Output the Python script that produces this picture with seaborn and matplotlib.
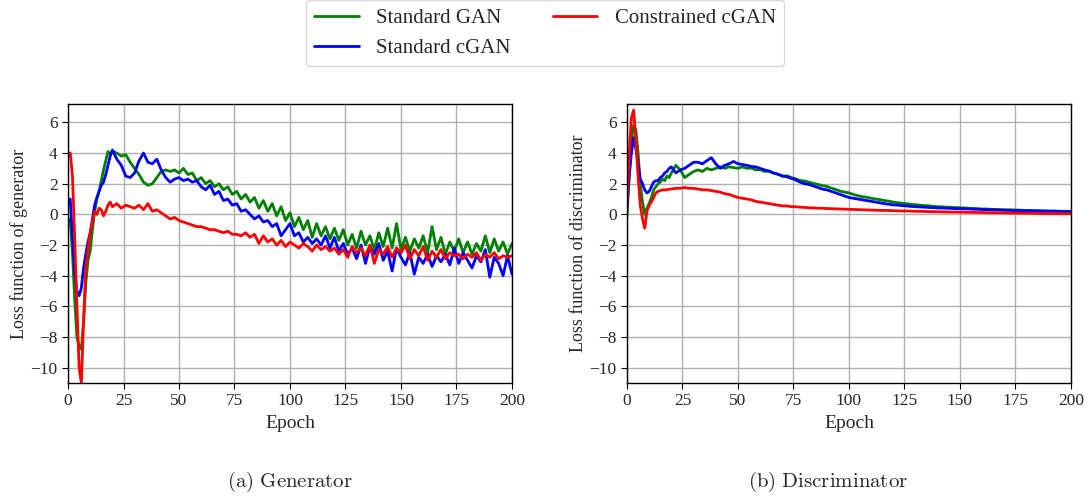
import numpy as np
import pandas as pd
import matplotlib
matplotlib.use("Agg")
import matplotlib.pyplot as plt
import seaborn as sns

# epochs: every epoch for the first 20, then every second epoch
epochs = list(range(0, 20)) + list(range(20, 201, 2))

# ---- generator losses ----
gen_gan = [
    -0.7, -0.3, -2.5, -5.5, -8.0, -8.6, -8.8, -7.0, -4.5, -3.0,
    -2.4, -1.0, 0.2, 1.0, 1.5, 2.2, 2.9, 3.5, 4.1, 3.9,
    4.1, 4.0, 3.8, 3.9, 3.4, 3.0, 2.6, 2.1, 1.9, 2.0,
    2.4, 2.8, 2.9, 2.8, 2.9, 2.7, 3.0, 2.6, 2.7, 2.2,
    2.4, 2.0, 2.2, 1.8, 2.0, 1.6, 1.8, 1.3, 1.5, 1.0,
    1.3, 0.8, 1.1, 0.4, 0.9, 0.2, 0.7, -0.1, 0.5, -0.4,
    0.1, -0.8, -0.2, -1.0, -0.4, -1.5, -0.6, -1.4, -0.8, -1.6,
    -0.9, -1.7, -1.0, -2.0, -1.3, -2.2, -1.1, -2.0, -1.4, -2.3,
    -1.2, -2.1, -0.9, -2.2, -0.6, -2.3, -1.5, -2.4, -1.6, -2.2,
    -1.4, -2.5, -0.8, -2.3, -1.5, -2.6, -1.8, -2.4, -1.6, -2.5,
    -1.8, -2.6, -1.9, -2.4, -1.4, -2.5, -1.6, -2.4, -1.8, -2.6,
    -1.9,
]
gen_cgan = [
    0.9, 1.0, -1.5, -3.8, -5.0, -5.3, -4.8, -3.5, -2.6, -1.8,
    -1.2, -0.3, 0.6, 1.1, 1.5, 1.9, 2.1, 2.6, 3.2, 3.8,
    4.2, 3.6, 3.2, 2.5, 2.4, 2.7, 3.5, 4.0, 3.4, 3.3,
    3.6, 2.9, 2.4, 2.1, 2.3, 2.4, 2.2, 2.3, 2.1, 2.2,
    1.8, 1.6, 1.9, 1.3, 1.5, 0.9, 1.0, 0.6, 0.7, 0.2,
    0.3, 0.0, -0.3, -0.1, -0.5, -0.4, -0.8, -0.6, -1.4, -1.0,
    -0.6, -1.4, -1.2, -1.8, -1.5, -1.9, -1.6, -2.0, -1.4, -2.2,
    -1.5, -2.4, -1.9, -2.6, -2.2, -2.9, -2.0, -3.2, -2.1, -2.6,
    -1.9, -3.0, -2.4, -3.7, -2.2, -2.8, -3.3, -2.5, -3.9, -2.8,
    -3.2, -2.6, -3.4, -2.7, -3.1, -2.6, -3.3, -2.2, -3.2, -2.5,
    -3.0, -3.5, -2.7, -3.1, -2.3, -4.1, -2.8, -3.2, -4.0, -2.7,
    -3.9,
]
gen_constrained = [
    4.0, 4.0, 2.5, -1.5, -6.0, -10.0, -11.0, -7.0, -3.5, -2.3,
    -1.2, -0.5, 0.2, 0.0, 0.4, 0.3, -0.1, 0.2, 0.6, 0.8,
    0.5, 0.7, 0.4, 0.6, 0.5, 0.4, 0.6, 0.3, 0.7, 0.2,
    0.3, 0.1, -0.1, -0.3, -0.2, -0.4, -0.5, -0.6, -0.7, -0.8,
    -0.8, -0.9, -1.0, -1.0, -1.1, -1.2, -1.1, -1.3, -1.3, -1.4,
    -1.2, -1.5, -1.3, -1.9, -1.4, -1.8, -1.6, -2.0, -1.7, -2.1,
    -1.8, -2.0, -2.2, -1.9, -2.1, -2.4, -2.0, -2.3, -2.1, -2.4,
    -2.2, -2.6, -2.3, -2.8, -2.1, -2.5, -2.2, -2.7, -2.0, -3.2,
    -2.3, -2.6, -2.1, -2.8, -2.2, -2.5, -2.0, -2.9, -2.3, -2.7,
    -2.1, -3.0, -2.4, -2.8, -2.3, -2.9, -2.5, -2.7, -2.6, -2.9,
    -2.6, -2.8, -2.5, -3.0, -2.6, -2.8, -2.5, -2.9, -2.7, -2.8,
    -2.7,
]

# ---- discriminator losses ----
dis_gan = [
    -0.2, 2.5, 4.8, 5.8, 5.5, 4.0, 2.0, 0.8, 0.0, 0.4,
    0.7, 1.1, 1.6, 1.8, 2.0, 2.1, 2.3, 2.2, 2.5, 2.4,
    2.7, 3.2, 2.9, 2.4, 2.6, 2.8, 2.9, 2.8, 3.0, 2.9,
    3.0, 3.1, 3.0, 3.1, 3.05, 3.0, 3.1, 3.0, 3.02, 2.9,
    2.92, 2.8, 2.82, 2.7, 2.62, 2.5, 2.52, 2.4, 2.32, 2.2,
    2.18, 2.1, 2.02, 1.95, 1.88, 1.82, 1.72, 1.62, 1.52, 1.45,
    1.4, 1.3, 1.22, 1.15, 1.12, 1.05, 1.0, 0.96, 0.9, 0.86,
    0.8, 0.76, 0.72, 0.7, 0.65, 0.63, 0.6, 0.57, 0.56, 0.52,
    0.5, 0.49, 0.47, 0.46, 0.44, 0.43, 0.42, 0.4, 0.39, 0.37,
    0.35, 0.35, 0.33, 0.32, 0.31, 0.3, 0.3, 0.29, 0.28, 0.27,
    0.26, 0.25, 0.25, 0.24, 0.23, 0.22, 0.22, 0.21, 0.2, 0.2,
    0.2,
]
dis_cgan = [
    0.5, 2.5, 4.0, 5.0, 4.3, 3.3, 2.3, 2.0, 1.6, 1.4,
    1.5, 1.8, 2.1, 2.2, 2.2, 2.4, 2.5, 2.7, 2.8, 3.0,
    3.1, 2.7, 2.9, 3.0, 3.2, 3.4, 3.4, 3.3, 3.5, 3.7,
    3.3, 3.0, 3.2, 3.3, 3.45, 3.3, 3.25, 3.2, 3.12, 3.1,
    3.0, 2.9, 2.82, 2.7, 2.62, 2.5, 2.45, 2.35, 2.25, 2.1,
    2.0, 1.95, 1.85, 1.75, 1.65, 1.6, 1.5, 1.4, 1.3, 1.2,
    1.1, 1.05, 1.0, 0.95, 0.9, 0.85, 0.8, 0.75, 0.7, 0.66,
    0.62, 0.6, 0.57, 0.55, 0.52, 0.5, 0.48, 0.47, 0.45, 0.44,
    0.42, 0.41, 0.4, 0.39, 0.38, 0.37, 0.36, 0.35, 0.34, 0.33,
    0.32, 0.31, 0.3, 0.29, 0.28, 0.27, 0.26, 0.25, 0.25, 0.24,
    0.23, 0.23, 0.22, 0.21, 0.21, 0.2, 0.2, 0.19, 0.19, 0.18,
    0.18,
]
dis_constrained = [
    0.5, 4.0, 6.3, 6.8, 4.9, 2.5, 0.6, -0.3, -0.9, 0.2,
    0.6, 0.8, 1.1, 1.4, 1.5, 1.55, 1.6, 1.6, 1.6, 1.65,
    1.65, 1.7, 1.7, 1.75, 1.7, 1.7, 1.65, 1.6, 1.6, 1.55,
    1.5, 1.45, 1.35, 1.3, 1.2, 1.1, 1.05, 1.0, 0.95, 0.85,
    0.8, 0.75, 0.7, 0.65, 0.6, 0.55, 0.55, 0.5, 0.5, 0.47,
    0.45, 0.43, 0.42, 0.4, 0.4, 0.38, 0.37, 0.36, 0.35, 0.34,
    0.33, 0.32, 0.31, 0.3, 0.29, 0.28, 0.27, 0.26, 0.26, 0.25,
    0.24, 0.23, 0.22, 0.22, 0.21, 0.2, 0.2, 0.19, 0.18, 0.18,
    0.17, 0.16, 0.16, 0.15, 0.15, 0.14, 0.14, 0.13, 0.13, 0.12,
    0.12, 0.11, 0.11, 0.1, 0.1, 0.09, 0.09, 0.08, 0.08, 0.07,
    0.07, 0.07, 0.06, 0.06, 0.06, 0.05, 0.05, 0.05, 0.05, 0.04,
    0.04,
]

series_names = ["Standard GAN", "Standard cGAN", "Constrained cGAN"]
colors = {"Standard GAN": "green", "Standard cGAN": "blue", "Constrained cGAN": "red"}


def long_form(values_list):
    frames = []
    for name, vals in zip(series_names, values_list):
        frames.append(pd.DataFrame({"epoch": epochs, "loss": vals, "model": name}))
    return pd.concat(frames, ignore_index=True)


gen_df = long_form([gen_gan, gen_cgan, gen_constrained])
dis_df = long_form([dis_gan, dis_cgan, dis_constrained])

sns.set_style("ticks")
plt.rcParams["font.family"] = "serif"
plt.rcParams["font.serif"] = ["Liberation Serif", "DejaVu Serif"]
plt.rcParams["mathtext.fontset"] = "cm"

fig = plt.figure(figsize=(10.9, 4.99), dpi=100)
ax1 = fig.add_axes([0.0624, 0.2325, 0.4073, 0.5591])
ax2 = fig.add_axes([0.5752, 0.2325, 0.4073, 0.5591])

for ax, df, ylab in [(ax1, gen_df, "Loss function of generator"),
                     (ax2, dis_df, "Loss function of discriminator")]:
    sns.lineplot(data=df, x="epoch", y="loss", hue="model", palette=colors,
                 linewidth=2, ax=ax, legend=(ax is ax1))
    ax.set_xlim(0, 200)
    ax.set_ylim(-11, 7.2)
    ax.set_xticks(range(0, 201, 25))
    ax.set_yticks(range(-10, 7, 2))
    ax.grid(True, color="#b0b0b0", linewidth=1)
    ax.tick_params(labelsize=12.5, direction="out", length=4, color="black")
    ax.set_xlabel("Epoch", fontsize=14)
    ax.set_ylabel(ylab, fontsize=13, labelpad=2)
    for sp in ax.spines.values():
        sp.set_color("black")
        sp.set_linewidth(1)

handles, labels = ax1.get_legend_handles_labels()
ax1.get_legend().remove()
fig.legend(handles, labels, loc="upper center", bbox_to_anchor=(0.5, 1.0),
           ncol=2, fontsize=15, frameon=True, edgecolor="#cccccc",
           handlelength=2.15, columnspacing=2.0, handletextpad=0.85,
           borderaxespad=0.0)

fig.text(0.266, 0.025, r"$\mathrm{(a)\ Generator}$", ha="center", fontsize=15)
fig.text(0.76, 0.025, r"$\mathrm{(b)\ Discriminator}$", ha="center", fontsize=15)

fig.savefig("out.png", dpi=100)
